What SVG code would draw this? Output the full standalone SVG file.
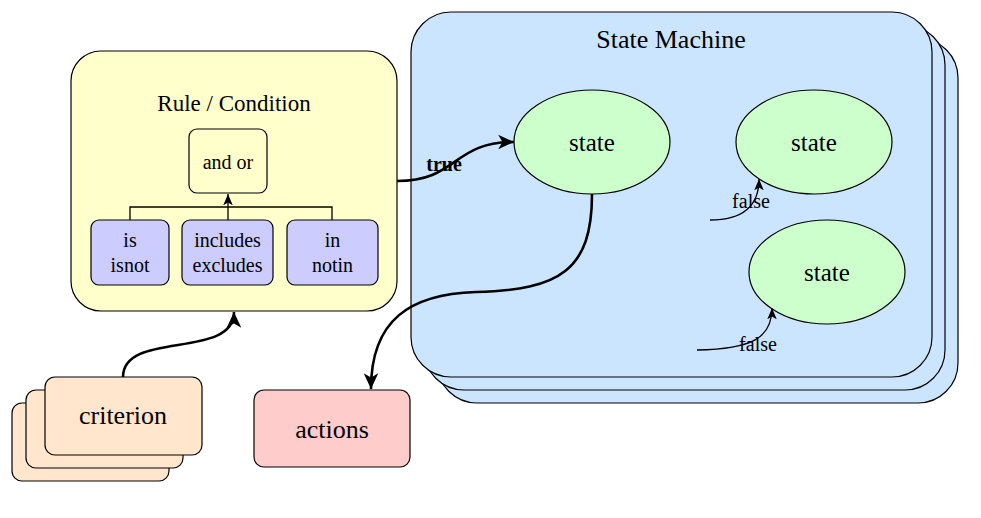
<svg xmlns="http://www.w3.org/2000/svg" width="981" height="518" viewBox="0 0 981 518">
<style>
text{font-family:"Liberation Serif","Times New Roman",serif;fill:#000;text-anchor:middle;dominant-baseline:central}
.box{stroke:#000;stroke-width:1.2}
.rule{fill:#ffffcc}
.op{fill:#ccccff}
.sm{fill:#cce5ff}
.st{fill:#ccffcc}
.cr{fill:#ffe6cc}
.ac{fill:#ffcccc}
.e{fill:none;stroke:#000}
.thick{stroke-width:2.6}
.thin{stroke-width:1.3}
</style>
<defs>
<marker id="big" markerUnits="userSpaceOnUse" markerWidth="17" markerHeight="17" viewBox="0 0 14 14" refX="13" refY="7" orient="auto">
<path d="M0,1 L13,7 L0,13 L3.5,7 z" fill="#000"/>
</marker>
<marker id="small" markerUnits="userSpaceOnUse" markerWidth="12" markerHeight="12" viewBox="0 0 10 10" refX="9.5" refY="5" orient="auto">
<path d="M0,1 L9.5,5 L0,9 L2.5,5 z" fill="#000"/>
</marker>
</defs>
<g id="state-machine">
<rect class="box sm" x="437" y="38" width="521" height="365" rx="40"/>
<rect class="box sm" x="424" y="25" width="521" height="365" rx="40"/>
<rect class="box sm" x="411" y="12" width="521" height="365" rx="40"/>
<text x="671" y="39" font-size="26">State Machine</text>
</g>
<g id="rule-condition">
<rect class="box rule" x="71" y="51" width="326" height="260" rx="30"/>
<text x="234" y="103" font-size="23">Rule / Condition</text>
</g>
<g id="and-or">
<rect class="box rule" x="189" y="129" width="78" height="64" rx="8"/>
<text x="228" y="162" font-size="20">and or</text>
</g>
<g id="is-isnot">
<rect class="box op" x="91" y="220" width="78" height="65" rx="8"/>
<text x="130" y="240" font-size="20">is</text>
<text x="130" y="265" font-size="20">isnot</text>
</g>
<g id="includes-excludes">
<rect class="box op" x="182" y="220" width="91" height="65" rx="8"/>
<text x="227.5" y="240" font-size="20">includes</text>
<text x="227.5" y="265" font-size="20">excludes</text>
</g>
<g id="in-notin">
<rect class="box op" x="287" y="220" width="91" height="65" rx="8"/>
<text x="332.5" y="240" font-size="20">in</text>
<text x="332.5" y="265" font-size="20">notin</text>
</g>
<g id="state-1">
<ellipse class="box st" cx="592" cy="142" rx="78" ry="52"/>
<text x="592" y="142" font-size="25">state</text>
</g>
<g id="state-2">
<ellipse class="box st" cx="814" cy="142" rx="78" ry="52"/>
<text x="814" y="142" font-size="25">state</text>
</g>
<g id="state-3">
<ellipse class="box st" cx="827" cy="272" rx="78" ry="52"/>
<text x="827" y="272" font-size="25">state</text>
</g>
<g id="criterion">
<rect class="box cr" x="12" y="403" width="157" height="78" rx="10"/>
<rect class="box cr" x="26" y="390" width="157" height="78" rx="10"/>
<rect class="box cr" x="45" y="377" width="157" height="78" rx="10"/>
<text x="123" y="415" font-size="26">criterion</text>
</g>
<g id="actions">
<rect class="box ac" x="254" y="390" width="156" height="77" rx="10"/>
<text x="332" y="429" font-size="26">actions</text>
</g>
<g id="connectors">
<path class="e thin" d="M130,220 V207 H332 V220 M228,220 V194" marker-end="url(#small)"/>
<path class="e thick" d="M123,377 C123,330 234,360 234,312" marker-end="url(#big)"/>
<path class="e thick" d="M397,181 C458,181 452,142 514,142" marker-end="url(#big)"/>
<path class="e thick" d="M592,194 C592,270 560,290 476,292 C410,294 371,320 371,389" marker-end="url(#big)"/>
<path class="e thin" d="M710,220 C745,220 759,205 759,179" marker-end="url(#small)"/>
<path class="e thin" d="M697,350 C752,349 772,338 772,308" marker-end="url(#small)"/>
<text x="444" y="164" font-size="20" font-weight="bold">true</text>
<text x="751" y="201" font-size="20">false</text>
<text x="758" y="344" font-size="20">false</text>
</g>
</svg>
